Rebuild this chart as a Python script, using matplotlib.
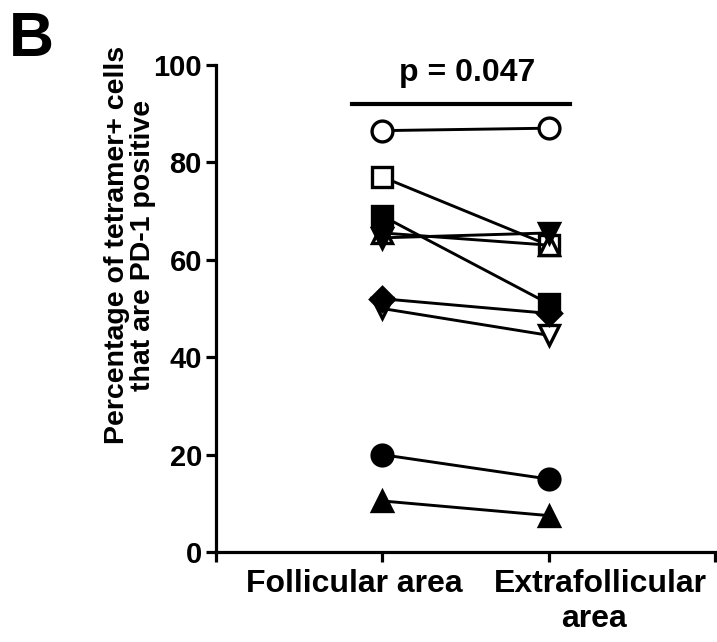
import matplotlib
matplotlib.use("Agg")
import matplotlib.pyplot as plt

plt.rcParams['font.family'] = ['Liberation Sans', 'DejaVu Sans']
plt.rcParams['font.weight'] = 'bold'

categories = ["Follicular area", "Extrafollicular", "area"]
follicular = [86.5, 77, 65.5, 50, 20, 69, 10.5, 64.5, 52]
extrafollicular = [87, 63, 63, 44.5, 15, 51, 7.5, 65.5, 49]
markers = ["o", "s", "^", "v", "o", "s", "^", "v", "D"]
filled = [False, False, False, False, True, True, True, True, True]
p_text = "p = 0.047"

fig = plt.figure(figsize=(7.17, 6.42), dpi=100)
ax = fig.add_axes([0.301, 0.140, 0.696, 0.759])

xs = [1, 2]
for f, e, m, fl in zip(follicular, extrafollicular, markers, filled):
    ms = 12 if m == "D" else 15
    ax.plot(xs, [f, e], color="black", lw=2.1, marker=m, markersize=ms,
            markerfacecolor="black" if fl else "white",
            markeredgecolor="black", markeredgewidth=2.4, zorder=3)

ax.set_xlim(0, 3)
ax.set_ylim(0, 100)
ax.set_xticks([0, 1, 2, 3])
ax.set_xticklabels(["", "", "", ""])
ax.set_yticks([0, 20, 40, 60, 80, 100])
ax.set_yticklabels(["0", "20", "40", "60", "80", "100"], fontsize=21, fontweight="bold")
for s in ["top", "right"]:
    ax.spines[s].set_visible(False)
for s in ["left", "bottom"]:
    ax.spines[s].set_linewidth(2.3)
ax.tick_params(width=2.3, length=7, pad=3)

# category labels
ax.text(0.834, -8.2, categories[0], ha="center", va="baseline", fontsize=23, fontweight="bold")
ax.text(2.31, -8.2, categories[1], ha="center", va="baseline", fontsize=23, fontweight="bold")
ax.text(2.274, -15.4, categories[2], ha="center", va="baseline", fontsize=23, fontweight="bold")

# significance bar
ax.plot([0.82, 2.13], [92, 92], color="black", lw=3, clip_on=False)
ax.text(1.51, 95.3, p_text, ha="center", va="bottom", fontsize=23, fontweight="bold")

fig.text(0.181, 0.618, "Percentage of tetramer+ cells\nthat are PD-1 positive",
         rotation=90, ha="center", va="center", fontsize=20.5, fontweight="bold",
         linespacing=1.0)
fig.text(0.012, 0.985, "B", ha="left", va="top", fontsize=45, fontweight="bold")

fig.savefig("out.png", dpi=100)
